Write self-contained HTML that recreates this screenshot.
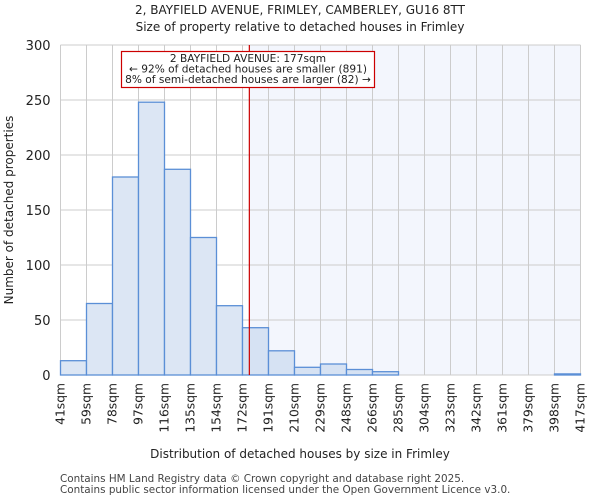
<!DOCTYPE html>
<html><head><style>
body{margin:0;background:#fff;font-family:"DejaVu Sans","Liberation Sans",sans-serif;}
</style></head><body>
<svg width="600" height="500" xmlns="http://www.w3.org/2000/svg" font-family="DejaVu Sans, Liberation Sans, sans-serif">
<text x="300" y="14" text-anchor="middle" font-size="12" fill="#222">2, BAYFIELD AVENUE, FRIMLEY, CAMBERLEY, GU16 8TT</text>
<text x="300" y="31" text-anchor="middle" font-size="12" fill="#222">Size of property relative to detached houses in Frimley</text>
<g id="plot"></g>
<text x="300" y="458" text-anchor="middle" font-size="12" fill="#222">Distribution of detached houses by size in Frimley</text>
<text x="13" y="210" text-anchor="middle" font-size="12" fill="#222" transform="rotate(-90 13 210)">Number of detached properties</text>
<text x="60" y="482" font-size="10.4" fill="#444">Contains HM Land Registry data © Crown copyright and database right 2025.</text>
<text x="60" y="493" font-size="10.4" fill="#444">Contains public sector information licensed under the Open Government Licence v3.0.</text>
</svg>
<script>
const labels=["41sqm","59sqm","78sqm","97sqm","116sqm","135sqm","154sqm","172sqm","191sqm","210sqm","229sqm","248sqm","266sqm","285sqm","304sqm","323sqm","342sqm","361sqm","379sqm","398sqm","417sqm"];
const counts=[13,65,180,248,187,125,63,43,22,7,10,5,3,0,0,0,0,0,0,1];
const yTicks=[0,50,100,150,200,250,300];
const marker=177;
const edges=[41,59,78,97,116,135,154,172,191,210,229,248,266,285,304,323,342,361,379,398,417];
const X0=60.5,X1=580.5,Y0=375,Y1=45,nb=counts.length,bw=(X1-X0)/nb;
const xb=i=>X0+i*bw;
const y=v=>Y0-(v/300)*(Y0-Y1);
function xv(v){for(let i=0;i<edges.length-1;i++){if(v<=edges[i+1])return xb(i)+(v-edges[i])/(edges[i+1]-edges[i])*bw;}return X1;}
const g=document.getElementById('plot');const NS="http://www.w3.org/2000/svg";
function mk(t,a){const e=document.createElementNS(NS,t);for(const k in a)e.setAttribute(k,a[k]);g.appendChild(e);return e;}
const mx=xv(marker);
let e=mk('rect',{x:mx,y:Y1,width:X1-mx,height:Y0-Y1,fill:'#f3f6fd'});


for(let i=0;i<=nb;i++){e=mk('line',{x1:xb(i),x2:xb(i),y1:Y1,y2:Y0,stroke:'#ccc','stroke-width':1});

}
yTicks.forEach(t=>{e=mk('line',{x1:X0,x2:X1,y1:y(t),y2:y(t),stroke:'#ccc','stroke-width':1});


e=mk('text',{x:X0-10,y:y(t)+5,'text-anchor':'end','font-size':13,fill:'#222'});e.textContent=t;

});
counts.forEach((c,i)=>{if(c<=0)return;e=mk('rect',{x:xb(i),y:y(c),width:bw,height:Y0-y(c),fill:xb(i)>=mx-bw?'#d6e2f3':'#dce6f4',stroke:'#5b8fd6','stroke-width':1.3});

});
labels.forEach((l,i)=>{const tx=xb(i)+4;e=mk('text',{x:tx,y:Y0+8,'text-anchor':'end','font-size':12.3,fill:'#222',transform:`rotate(-90 ${tx} ${Y0+8})`});e.textContent=l;

});
e=mk('line',{x1:mx,x2:mx,y1:Y1,y2:Y0,stroke:'#c00','stroke-width':1.2});


e=mk('rect',{x:121.5,y:51.5,width:253,height:36,fill:'#fff',stroke:'#c00','stroke-width':1.2});


["2 BAYFIELD AVENUE: 177sqm","← 92% of detached houses are smaller (891)","8% of semi-detached houses are larger (82) →"].forEach((t,i)=>{e=mk('text',{x:248,y:62+i*10.5,'text-anchor':'middle','font-size':10.6,fill:'#222'});e.textContent=t;

});
</script>
</body></html>
